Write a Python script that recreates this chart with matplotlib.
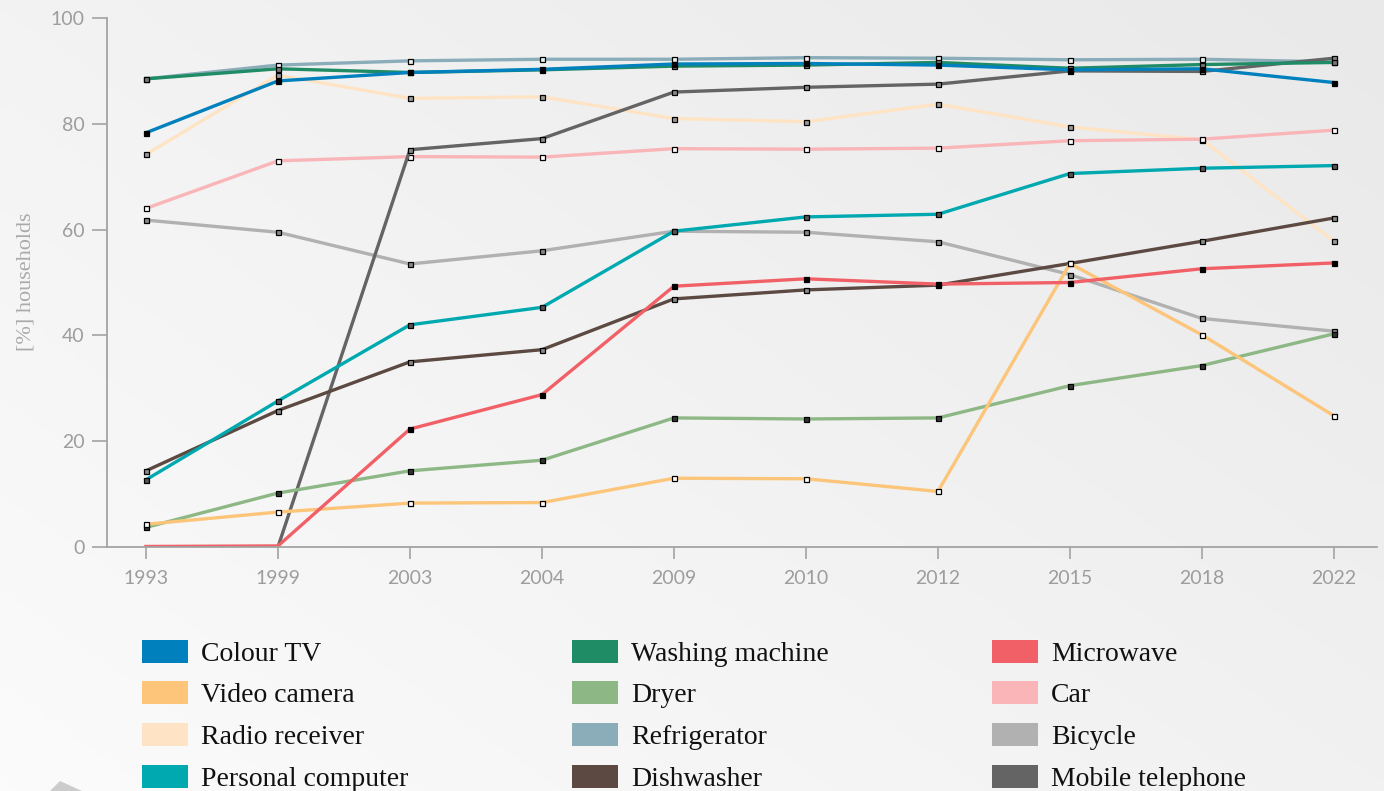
import matplotlib
matplotlib.use("Agg")
import matplotlib.pyplot as plt
import numpy as np
from matplotlib.patches import Rectangle, Polygon

# survey years (categorical axis)
years = ["1993", "1999", "2003", "2004", "2009", "2010", "2012", "2015", "2018", "2022"]

# [%] households per appliance
colour_tv = [78.3, 88.1, 89.7, 90.3, 91.3, 91.4, 91.1, 90.2, 90.4, 87.8]
washing_machine = [88.5, 90.4, 89.7, 90.2, 90.9, 91.1, 91.6, 90.5, 91.2, 91.6]
microwave = [0.1, 0.2, 22.3, 28.8, 49.3, 50.7, 49.7, 50.0, 52.6, 53.7]
video_camera = [4.3, 6.6, 8.3, 8.4, 13.0, 12.9, 10.5, 53.6, 40.1, 24.8]
dryer = [3.7, 10.2, 14.4, 16.4, 24.4, 24.2, 24.4, 30.5, 34.3, 40.3]
car = [64.0, 73.0, 73.8, 73.7, 75.3, 75.2, 75.4, 76.8, 77.1, 78.8]
radio_receiver = [74.2, 89.2, 84.8, 85.1, 81.0, 80.4, 83.7, 79.4, 77.0, 57.8]
refrigerator = [88.5, 91.1, 91.9, 92.2, 92.2, 92.5, 92.4, 92.1, 92.2, 91.7]
bicycle = [61.8, 59.5, 53.5, 56.0, 59.7, 59.5, 57.7, 51.5, 43.2, 40.8]
personal_computer = [12.7, 27.6, 42.0, 45.3, 59.7, 62.4, 62.9, 70.6, 71.6, 72.1]
dishwasher = [14.4, 25.8, 35.0, 37.3, 46.9, 48.6, 49.5, 53.6, 57.8, 62.2]
mobile_telephone = [np.nan, 0.0, 75.1, 77.2, 86.0, 86.9, 87.5, 90.0, 89.9, 92.4]

# legend order (column by column)
names = ["Colour TV", "Video camera", "Radio receiver", "Personal computer",
         "Washing machine", "Dryer", "Refrigerator", "Dishwasher",
         "Microwave", "Car", "Bicycle", "Mobile telephone"]
values = [colour_tv, video_camera, radio_receiver, personal_computer,
          washing_machine, dryer, refrigerator, dishwasher,
          microwave, car, bicycle, mobile_telephone]
colors = ["#0081bd", "#fcc57a", "#fee4c4", "#00a8b0",
          "#208c66", "#8db885", "#8aadb9", "#5c4a42",
          "#f26067", "#f9b5b8", "#b1b1b1", "#646464"]
marker_faces = ["black", "white", "#999999", "#555555",
                "#777777", "#333333", "#f0f0f0", "#888888",
                "black", "white", "#888888", "#888888"]
# drawing order, back to front
draw_order = [2, 9, 10, 6, 11, 7, 5, 1, 3, 8, 4, 0]

W, H = 1384, 791
fig = plt.figure(figsize=(W / 100, H / 100), dpi=100)

# soft grey background gradient
bg = fig.add_axes([0, 0, 1, 1], zorder=-10)
gx, gy = np.meshgrid(np.linspace(0, 1, 300), np.linspace(0, 1, 200))
grad = 0.55 * gx + 0.45 * gy
bg.imshow(grad, cmap=matplotlib.colors.LinearSegmentedColormap.from_list(
    "bg", ["#fbfbfb", "#e9e9e9"]), extent=[0, 1, 0, 1], aspect="auto", origin="lower")
bg.set_xlim(0, 1)
bg.set_ylim(0, 1)
bg.axis("off")
bg.add_patch(Polygon([(50 / W, 0), (60 / W, 10 / H), (82 / W, 0)],
                     closed=True, color="#cccccc", lw=0))

ax = fig.add_axes([107 / W, 244 / H, 1270 / W, 529 / H])
ax.patch.set_alpha(0)
x = np.arange(len(years))

for i in draw_order:
    v = np.array(values[i], dtype=float)
    shown = [k for k in range(len(v)) if not np.isnan(v[k]) and v[k] > 0.5]
    ax.plot(x, v, color=colors[i], lw=2.4, marker="s", markersize=3.6,
            markerfacecolor=marker_faces[i], markeredgecolor="black",
            markeredgewidth=0.9, markevery=shown, solid_joinstyle="round")

ax.set_xlim(-0.295, 9.326)
ax.set_ylim(0, 100)
ax.set_xticks(x)
ax.set_xticklabels(years)
ax.set_yticks([0, 20, 40, 60, 80, 100])
for s in ["top", "right"]:
    ax.spines[s].set_visible(False)
for s in ["left", "bottom"]:
    ax.spines[s].set_color("#a3a3a3")
    ax.spines[s].set_linewidth(1.3)
ax.tick_params(axis="y", length=11, width=1.2, color="#a3a3a3", pad=5,
               labelsize=14, labelcolor="#9d9d9d")
ax.tick_params(axis="x", length=8.5, width=1.2, color="#a3a3a3", pad=8,
               labelsize=14, labelcolor="#9d9d9d")
for lab in ax.get_xticklabels() + ax.get_yticklabels():
    lab.set_family("Lato")

fig.text(26 / W, 1 - 282 / H, "[%] households", rotation=90, ha="center",
         va="center", fontsize=16, color="#aaaaaa", family="Liberation Serif")

# legend: 3 columns x 4 rows
col_x = [142, 572, 992]
row_y = [651, 692.5, 734.5, 776.5]
for i, name in enumerate(names):
    c, r = divmod(i, 4)
    x0 = col_x[c]
    yc = row_y[r]
    fig.patches.append(Rectangle((x0 / W, 1 - (yc + 11.5) / H), 46 / W, 23 / H,
                                 transform=fig.transFigure, color=colors[i], lw=0))
    fig.text((x0 + 59) / W, 1 - (yc + 10) / H, name, ha="left", va="baseline",
             fontsize=20, color="#111111", family="Liberation Serif")

fig.savefig("out.png", dpi=100)
